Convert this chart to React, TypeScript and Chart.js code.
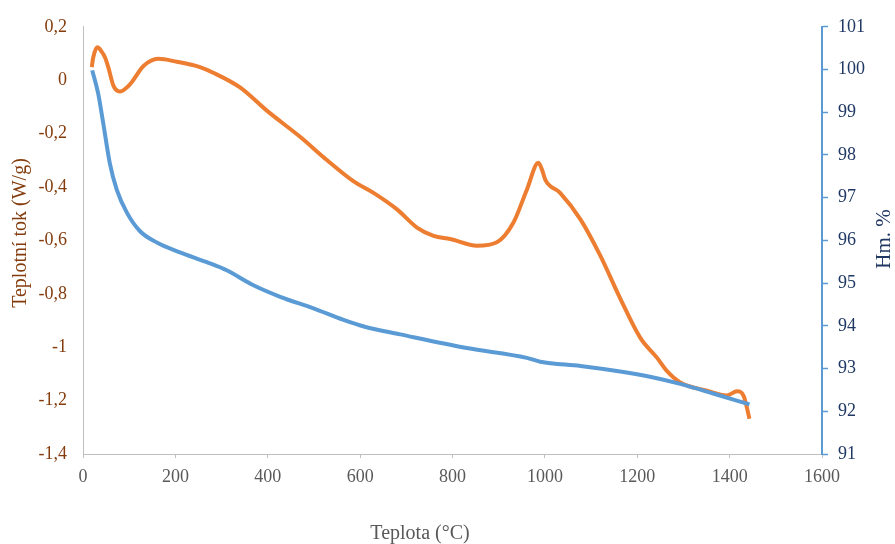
import React, { useEffect, useRef } from "react";
import { Chart, registerables } from "chart.js";

Chart.register(...registerables);

// Heat flow (W/g), left axis
const heatTemp = [
  19, 22, 31, 40, 48, 55, 66, 80, 102, 131, 163, 203, 253, 282, 340, 398, 470,
  528, 586, 629, 680, 723, 759, 795, 853, 896, 932, 961, 986, 994, 1001, 1033,
  1077, 1120, 1163, 1207, 1243, 1264, 1293, 1351, 1394, 1416, 1430, 1443,
];
const heatFlow = [
  0.049, 0.084, 0.123, 0.108, 0.084, 0.047, -0.021, -0.042, -0.015, 0.053,
  0.08, 0.069, 0.049, 0.028, -0.027, -0.114, -0.212, -0.299, -0.379, -0.422,
  -0.484, -0.552, -0.583, -0.595, -0.62, -0.607, -0.533, -0.41, -0.309, -0.336,
  -0.373, -0.422, -0.521, -0.657, -0.817, -0.966, -1.04, -1.089, -1.132, -1.163,
  -1.181, -1.165, -1.181, -1.268,
];

// Mass (%), right axis
const massTemp = [
  20, 33, 44, 58, 73, 95, 123, 160, 210, 268, 311, 369, 427, 499, 564, 610, 687,
  831, 961, 990, 1077, 1163, 1235, 1293, 1366, 1443,
];
const massPct = [
  99.98, 99.43, 98.73, 97.81, 97.19, 96.65, 96.22, 95.95, 95.72, 95.49, 95.3,
  94.95, 94.68, 94.41, 94.14, 93.98, 93.8, 93.48, 93.25, 93.16, 93.06, 92.93,
  92.79, 92.64, 92.41, 92.16,
];

const xTitle = "Teplota (°C)";
const leftTitle = "Teplotní tok (W/g)";
const rightTitle = "Hm. %";

const ORANGE = "#ED7D31";
const BLUE = "#5B9BD5";
const BROWN = "#843C0C";
const NAVY = "#203864";
const GRAY = "#595959";
const AXIS_GRAY = "#BFBFBF";
const FONT = "'Liberation Serif', 'Times New Roman', serif";

const axisTitles = {
  id: "axisTitles",
  afterDraw(chart: any) {
    const ctx = chart.ctx;
    ctx.save();
    ctx.textAlign = "center";
    ctx.textBaseline = "middle";

    ctx.fillStyle = GRAY;
    ctx.font = `20px ${FONT}`;
    ctx.fillText(xTitle, 420, 534);

    ctx.save();
    ctx.translate(21, 233);
    ctx.rotate(-Math.PI / 2);
    ctx.fillStyle = BROWN;
    ctx.font = `20px ${FONT}`;
    ctx.fillText(leftTitle, 0, 0);
    ctx.restore();

    ctx.save();
    ctx.translate(884, 239);
    ctx.rotate(-Math.PI / 2);
    ctx.fillStyle = NAVY;
    ctx.font = `21px ${FONT}`;
    ctx.fillText(rightTitle, 0, 0);
    ctx.restore();

    ctx.restore();
  },
};

const fmtComma = (v: number) => {
  const r = Math.round(v * 10) / 10;
  return (r === 0 ? "0" : String(r)).replace(".", ",");
};

export default function App() {
  const ref = useRef<HTMLCanvasElement | null>(null);

  useEffect(() => {
    if (!ref.current) return;
    const chart = new Chart(ref.current, {
      type: "line",
      data: {
        datasets: [
          {
            label: "Hm. %",
            data: massTemp.map((t, i) => ({ x: t, y: massPct[i] })),
            borderColor: BLUE,
            borderWidth: 4,
            pointRadius: 0,
            cubicInterpolationMode: "monotone",
            yAxisID: "yR",
            order: 0,
          },
          {
            label: "Teplotní tok",
            data: heatTemp.map((t, i) => ({ x: t, y: heatFlow[i] })),
            borderColor: ORANGE,
            borderWidth: 4,
            pointRadius: 0,
            cubicInterpolationMode: "monotone",
            yAxisID: "yL",
            order: 1,
          },
        ],
      },
      options: {
        animation: false,
        responsive: true,
        maintainAspectRatio: false,
        layout: { padding: { top: 22, left: 0, right: 0, bottom: 0 } },
        plugins: {
          legend: { display: false },
          tooltip: { enabled: false },
        },
        scales: {
          x: {
            type: "linear",
            min: 0,
            max: 1600,
            ticks: {
              stepSize: 200,
              color: GRAY,
              font: { family: FONT, size: 18 },
              padding: 8,
              maxRotation: 0,
              callback: (v: any) => String(Math.round(Number(v))),
            },
            grid: {
              display: true,
              drawOnChartArea: false,
              drawTicks: true,
              tickLength: 4,
              color: AXIS_GRAY,
            },
            border: { display: true, color: AXIS_GRAY, width: 1 },
            afterFit(scale: any) {
              scale.height = 90;
            },
          },
          yL: {
            type: "linear",
            position: "left",
            min: -1.4,
            max: 0.2,
            ticks: {
              stepSize: 0.2,
              color: BROWN,
              font: { family: FONT, size: 18 },
              padding: 16,
              callback: (v: any) => fmtComma(Number(v)),
            },
            grid: { display: false, drawTicks: false },
            border: { display: true, color: AXIS_GRAY, width: 1 },
            afterFit(scale: any) {
              scale.width = 83;
            },
          },
          yR: {
            type: "linear",
            position: "right",
            min: 91,
            max: 101,
            ticks: {
              stepSize: 1,
              color: NAVY,
              font: { family: FONT, size: 18 },
              padding: 10,
            },
            grid: {
              display: true,
              drawOnChartArea: false,
              drawTicks: true,
              tickLength: 6,
              tickWidth: 1.5,
              tickColor: BLUE,
              color: BLUE,
            },
            border: { display: true, color: BLUE, width: 2 },
            afterFit(scale: any) {
              scale.width = 73;
            },
          },
        },
      },
      plugins: [axisTitles],
    } as any);
    return () => chart.destroy();
  }, []);

  return (
    <div style={{ position: "fixed", left: 0, top: 0, width: 895, height: 544, background: "#fff" }}>
      <canvas ref={ref} />
    </div>
  );
}
